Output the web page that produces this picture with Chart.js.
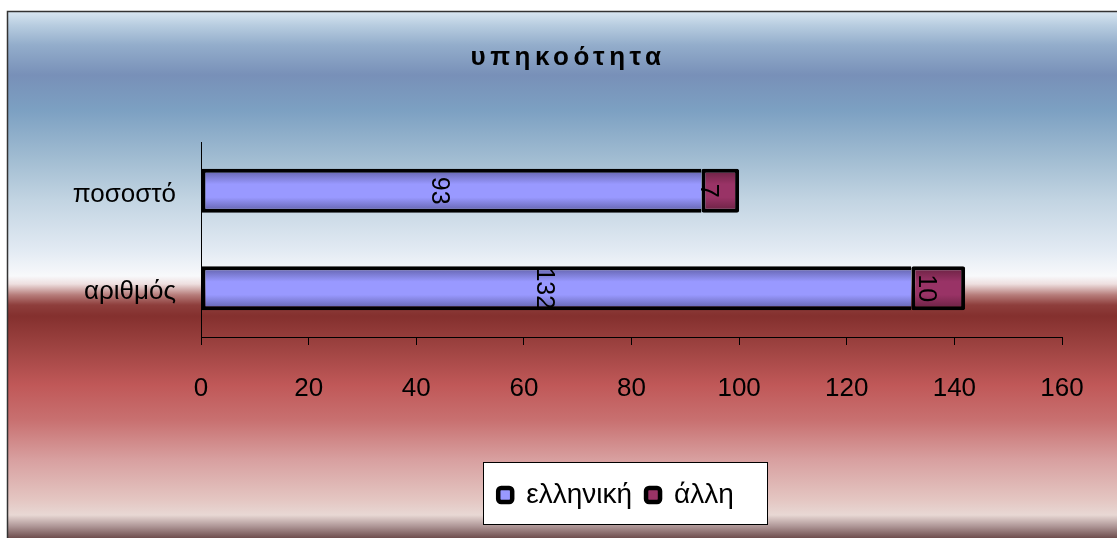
<!DOCTYPE html>
<html>
<head>
<meta charset="utf-8">
<title>υπηκοότητα</title>
<script src="https://cdn.jsdelivr.net/npm/chart.js@4/dist/chart.umd.min.js"></script>
<style>
  html, body { margin: 0; padding: 0; background: #ffffff; }
  #wrap { width: 1117px; height: 538px; }
</style>
</head>
<body>
<div id="wrap"><canvas id="chart" width="1117" height="538"></canvas></div>
<script>
// Categories and series values
const categories = ['ποσοστό', 'αριθμός'];
const seriesNames = ['ελληνική', 'άλλη'];
const greekValues = [93, 132];
const otherValues = [7, 10];

// Value axis ticks
const axisMin = 0;
const axisMax = 160;
const axisStep = 20;

const FONT = '"Liberation Sans", Arial, sans-serif';
const BAR_PCT = 0.45;
const LEGEND_SHIFT = 50;
const LEGEND_FONT = 28;

Chart.defaults.font.family = FONT;
Chart.defaults.color = '#000';

// Vertical shading inside each bar: dark edges, light middle
function barGradient(light, dark) {
  return (c) => {
    const chart = c.chart;
    const yScale = chart.scales && chart.scales.y;
    if (!chart.chartArea || !yScale || c.dataIndex == null) return light;
    const center = yScale.getPixelForValue(c.dataIndex);
    const half = (yScale.bottom - yScale.top) / categories.length * BAR_PCT / 2;
    const g = chart.ctx.createLinearGradient(0, center - half, 0, center + half);
    g.addColorStop(0, dark);
    g.addColorStop(0.35, light);
    g.addColorStop(0.65, light);
    g.addColorStop(1, dark);
    return g;
  };
}

const seriesColors = ['#9999ff', '#993366'];

// Background panel, border and the white legend frame
const panelPlugin = {
  id: 'panel',
  afterLayout(chart) {
    chart.legend.left += LEGEND_SHIFT;
    chart.legend.right += LEGEND_SHIFT;
    const t = chart.titleBlock;
    if (t && !t._spaced) {
      const draw = t.draw;
      t.draw = function () {
        const c = this.ctx;
        c.save();
        c.letterSpacing = '4.5px';
        c.translate(2, 0);
        draw.apply(this, arguments);
        c.restore();
      };
      t._spaced = true;
    }
  },
  beforeDraw(chart) {
    const ctx = chart.ctx;
    const top = 11, left = 7;
    const h = chart.height - top;
    const g = ctx.createLinearGradient(0, top, 0, chart.height);
    const stops = [
      [11, '#dae7f2'], [25, '#b8cde0'], [45, '#93adcb'], [75, '#7890b8'],
      [110, '#7ca0c2'], [160, '#a2bdd2'], [200, '#c2d4e2'], [250, '#e2eaf3'],
      [276, '#f8f9fb'], [284, '#eedfdf'], [295, '#b67c7a'], [305, '#8e3e3c'],
      [316, '#84302e'], [345, '#9c4240'], [385, '#c05858'], [420, '#c87070'],
      [460, '#d8a0a0'], [500, '#e4c6c2'], [515, '#e8d8d4'], [526, '#b09898'],
      [538, '#6e4e4e']
    ];
    stops.forEach(([y, col]) => g.addColorStop((y - top) / h, col));
    ctx.save();
    ctx.fillStyle = g;
    ctx.fillRect(left, top, chart.width - left, h);
    ctx.strokeStyle = '#333';
    ctx.lineWidth = 1.5;
    ctx.strokeRect(left + 0.5, top + 0.5, chart.width + 10, h + 10);

    // legend frame
    const lg = chart.legend;
    const pad = lg.options.labels.padding;
    const cx = (lg.left + lg.right) / 2;
    const contentW = lg.lineWidths[0] - pad;
    const midY = lg.top + pad + LEGEND_FONT / 2;
    const bx = Math.round(cx - contentW / 2 - 15) + 0.5;
    const bw = Math.round(contentW + 48);
    const by = Math.round(midY - 33) + 0.5;
    ctx.fillStyle = '#ffffff';
    ctx.fillRect(bx, by, bw, 62);
    ctx.strokeStyle = '#000';
    ctx.lineWidth = 1;
    ctx.strokeRect(bx, by, bw, 62);
    ctx.restore();
  },
  // value labels, rotated to read downward
  afterDatasetsDraw(chart) {
    const ctx = chart.ctx;
    ctx.save();
    ctx.font = '25px ' + FONT;
    ctx.fillStyle = '#000';
    ctx.textAlign = 'center';
    ctx.textBaseline = 'top';
    chart.data.datasets.forEach((ds, di) => {
      const meta = chart.getDatasetMeta(di);
      meta.data.forEach((bar, i) => {
        const p = bar.getProps(['x', 'y', 'base'], true);
        ctx.save();
        ctx.translate((p.x + p.base) / 2, p.y);
        ctx.rotate(Math.PI / 2);
        ctx.fillText(String(ds.data[i]), 0, 0);
        ctx.restore();
      });
    });
    ctx.restore();
  }
};

new Chart(document.getElementById('chart'), {
  type: 'bar',
  data: {
    labels: categories,
    datasets: [
      {
        label: seriesNames[0],
        data: greekValues,
        backgroundColor: barGradient('#9999ff', '#5c5ca2'),
        borderColor: '#000',
        borderWidth: 4,
        borderSkipped: 'end',
        barPercentage: BAR_PCT,
        categoryPercentage: 1
      },
      {
        label: seriesNames[1],
        data: otherValues,
        backgroundColor: barGradient('#993366', '#66203f'),
        borderColor: '#000',
        borderWidth: 4,
        borderSkipped: false,
        borderRadius: 2,
        barPercentage: BAR_PCT,
        categoryPercentage: 1
      }
    ]
  },
  options: {
    indexAxis: 'y',
    responsive: false,
    animation: false,
    devicePixelRatio: 1,
    layout: { padding: { left: 70, right: 55, top: 0, bottom: 19 } },
    scales: {
      x: {
        stacked: true,
        min: axisMin,
        max: axisMax,
        ticks: { stepSize: axisStep, padding: 28, font: { size: 26 }, color: '#000' },
        grid: { display: true, drawOnChartArea: false, drawTicks: true, tickLength: 8, color: '#000', lineWidth: 1 },
        border: { display: true, color: '#000', width: 1 },
        afterFit(s) { s.height = 130; }
      },
      y: {
        stacked: true,
        ticks: { padding: 25, labelOffset: 4, font: { size: 26 }, color: '#000' },
        grid: { display: true, drawOnChartArea: false, drawTicks: false },
        border: { display: true, color: '#000', width: 1 },
        afterFit(s) { s.width = 131; }
      }
    },
    plugins: {
      title: {
        display: true,
        text: 'υπηκοότητα',
        color: '#000',
        font: { size: 26, weight: 'bold' },
        padding: { top: 41.9, bottom: 68.9 }
      },
      legend: {
        display: true,
        position: 'bottom',
        labels: {
          font: { size: LEGEND_FONT },
          color: '#000',
          boxWidth: 14,
          boxHeight: 14,
          padding: 14,
          useBorderRadius: true,
          borderRadius: 3,
          generateLabels() {
            return seriesNames.map((name, i) => ({
              text: name,
              fillStyle: seriesColors[i],
              strokeStyle: '#000',
              lineWidth: 4.5,
              borderRadius: 3,
              hidden: false,
              datasetIndex: i
            }));
          }
        }
      },
      tooltip: { enabled: false }
    }
  },
  plugins: [panelPlugin]
});
</script>
</body>
</html>
